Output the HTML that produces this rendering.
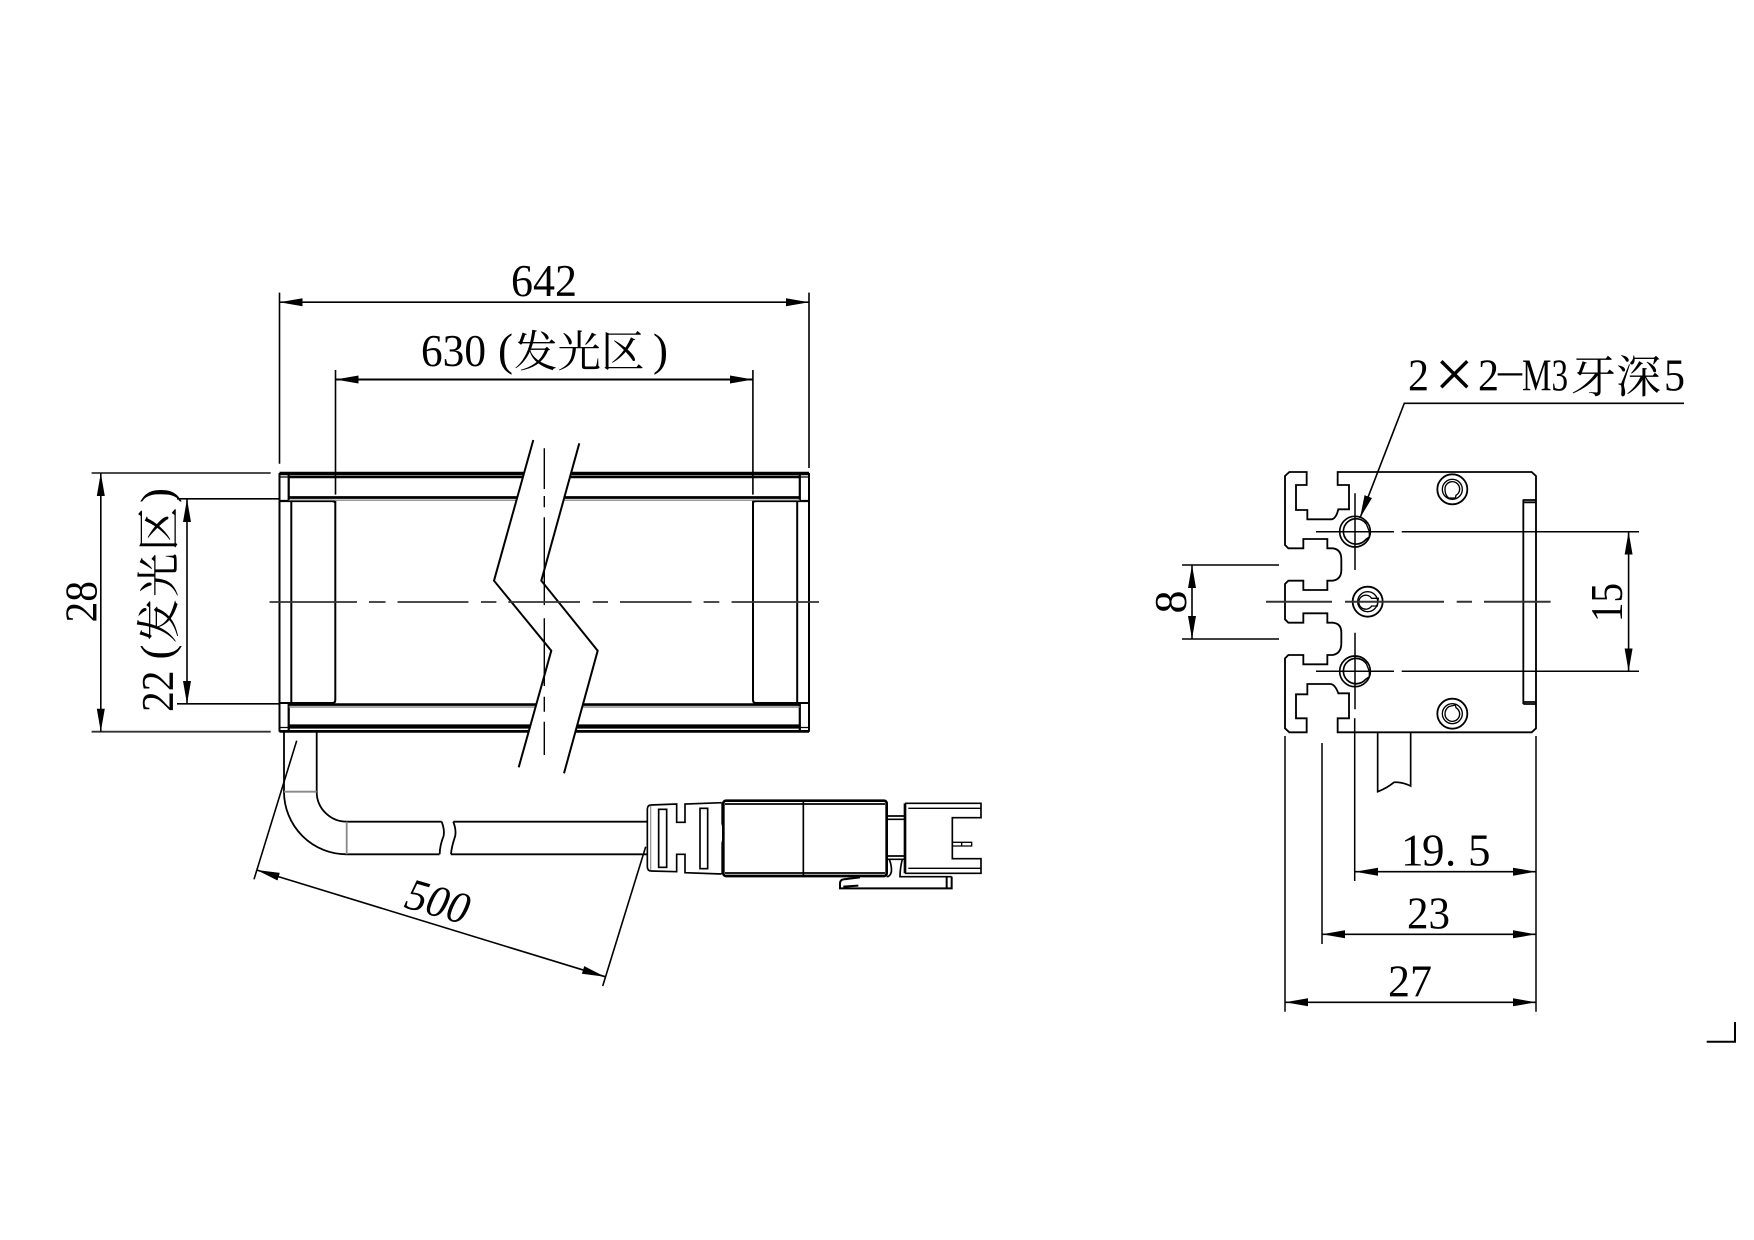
<!DOCTYPE html>
<html><head><meta charset="utf-8"><style>
html,body{margin:0;padding:0;background:#fff}
svg{display:block}
text{fill:#000}
.d{font-family:"Liberation Serif",serif;font-size:45px}
.c{font-family:"Liberation Serif","Noto Serif CJK SC",serif;font-size:44px}
</style></head><body>
<svg width="1754" height="1240" viewBox="0 0 1754 1240" xmlns="http://www.w3.org/2000/svg">
<defs>
<marker id="a" markerUnits="userSpaceOnUse" markerWidth="24" markerHeight="10" refX="23" refY="4.5" orient="auto-start-reverse" viewBox="0 0 24 9"><path d="M0,0.5 L23,4.5 L0,8.5 Z" fill="#000"/></marker>
</defs>
<rect width="1754" height="1240" fill="#fff"/>

<!-- FRONT VIEW body -->
<g fill="none" stroke="#000" stroke-width="2">
<path d="M279.5 473V731.7M809 473V731.7"/>
<path d="M288.7 473V500M799.8 473V500M288.7 704V731.7M799.8 704V731.7" stroke-width="2.2"/>
<path d="M291.3 501V702M797.2 501V702"/>
<path d="M335.3 501V700q0 3-3 3H279.5M753 501V700q0 3 3 3H809"/>
<path d="M279.5 501H332q3 0 3 2M809 501H756q-3 0-3 2" stroke-width="2.2"/>
<path d="M279.5 473.5H809" stroke-width="3.4"/>
<path d="M288.7 477H799.8" stroke-width="2.6"/>
<path d="M279.5 477H288.7M799.8 477H809" stroke-width="1.2"/>
<path d="M288.7 497.5H799.8" stroke-width="2.8"/>
<path d="M288.7 500.2H799.8" stroke="#777" stroke-width="1.2"/>
<path d="M288.7 704.6H799.8" stroke-width="2.6"/>
<path d="M288.7 707H799.8" stroke="#777" stroke-width="1.2"/>
<path d="M288.7 726.5H799.8" stroke-width="4.2"/>
<path d="M279.5 731.4H809" stroke-width="2.8"/>
<path d="M279.5 727.5H288.7M799.8 727.5H809" stroke-width="1.2"/>
</g>
<polygon points="533.3,440 494,580.7 551.3,650.7 518.7,767.3 564,773.3 597.7,650.7 541.3,580.7 579.3,443.3" fill="#fff"/>
<path d="M533.3 440L494 580.7L551.3 650.7L518.7 767.3M579.3 443.3L541.3 580.7L597.7 650.7L564 773.3" fill="none" stroke="#000" stroke-width="2"/>
<path d="M544.3 448.3V489M544.3 496V507.3M544.3 517.3V605M544.3 618.3V686M544.3 696.7V711.7M544.3 721.7V755" stroke="#000" stroke-width="1.4" fill="none"/>
<path d="M269.5 602H357M369 602H385.5M397.5 602H468.4M481 602H496.4M508.4 602H580M592.7 602H608M620 602H691.6M703.6 602H719.3M731.6 602H819" stroke="#333" stroke-width="1.8" fill="none"/>

<!-- Cable -->
<g fill="none" stroke="#000" stroke-width="1.8">
<path d="M284 731V791.7A62.7 62.7 0 0 0 346.7 854.3H439.5M316.7 731V791.7A30 30 0 0 0 346.7 821.7H441.7"/>
<path d="M441.7 821.7q3 8 2 14q-4 10-4 18.6M453.3 821.7q3 8 2 14q-4 12-4.300 18.600"/>
<path d="M453.300 821.700H647M451 854.300H647"/>
<path d="M284 791.700H316.700M346.700 821.700V854.300" stroke="#888"/>
</g>

<!-- Connector -->
<g transform="translate(630 780) scale(.33333)" fill="none" stroke="#000" stroke-width="5">
<path d="M62 75L140 72V127H165V72L275 68M62 273L140 275V223H165V278L275 282"/>
<path d="M62 75Q52 76 52 88V260Q52 272 62 273"/>
<path d="M62 78V270" stroke="#999" stroke-width="4"/>
<rect x="86" y="88" width="24" height="174"/>
<rect x="210" y="85" width="23" height="181"/>
<rect x="280" y="62" width="490" height="226" rx="8" stroke-width="8"/>
<path d="M285 72H765M285 279H765M520 62V288"/>
<path d="M276 68V130L282 160L276 190V282" stroke-width="4"/>
<path d="M770 108H825M770 118H825M770 228H825M770 238H825"/>
<path d="M825 70V280" stroke-width="8"/>
<path d="M825 70H1053V113H967V236H1053V280H825"/>
<path d="M835 85H1053M835 265H1053" stroke-width="4"/>
<path d="M967 187H1025V198H967M995 187V198" stroke-width="4"/>
<path d="M778 238Q786 260 784 276Q780 290 770 290" stroke-width="5"/>
<path d="M817 238Q810 265 810 290H965"/>
<path d="M690 292L640 298Q630 300 630 310V325H965V290M640 320L685 317M950 290V322" stroke-width="6"/>
</g>

<!-- Side view profile -->
<g transform="translate(1270 460) scale(.33333)" fill="none" stroke="#000" stroke-width="5.500">
<path d="M203 36H785L798 48V805L785 817H203V775H237V700H205Q195 672 180 672H112V703H78V775H110V817H58L45 805V595L55 585H100V613H172V585H188Q214 580 214 550V518Q214 490 188 488H172V460H100V488H55L45 478V372L55 362H100V390H172V362H188Q214 358 214 330V298Q214 268 188 265H172V237H100V265H55L45 255V48L58 36H110V75H78V150H112V178H185Q198 176 205 148H237V75H203Z"/>
<path d="M760 120H798M760 127H798M760 118V732M760 726H798M760 732H798"/>
<path d="M323 817V995Q350 985 372 967Q395 965 422 978V817" stroke-width="5"/>
<circle cx="547" cy="88" r="45"/><circle cx="547" cy="88" r="30" stroke-width="4"/>
<path d="M536 114Q525 105 525 88A22 22 0 1 1 558 106L556 114Z" stroke-width="4"/>
<circle cx="547" cy="761" r="45"/><circle cx="547" cy="761" r="30" stroke-width="4"/>
<path d="M536 740Q525 748 525 762A22 22 0 1 0 558 743L556 735Z" stroke-width="4"/>
<circle cx="293" cy="425" r="45"/><circle cx="293" cy="425" r="30" stroke-width="4"/>
<path d="M325 415H305A21 21 0 1 0 305 438H322Z" stroke-width="4"/>
<circle cx="255" cy="215" r="46" stroke-width="5"/>
<path d="M289 192A38 38 0 1 0 287 239L297 232" stroke-width="5"/>
<path d="M289 192L298 215V232" stroke-width="4"/>
<circle cx="255" cy="634" r="46" stroke-width="5"/>
<path d="M289 611A38 38 0 1 0 287 658L297 651" stroke-width="5"/>
<path d="M289 611L298 634V651" stroke-width="4"/>
</g>
<g fill="none" stroke="#000" stroke-width="1.500">
<path d="M1316 531.700H1394M1401.700 531.700H1639M1316 671.300H1394M1401.700 671.300H1639"/>
<path d="M1355 493.300V570M1355 632.700V709.300M1354.700 718.300V881"/>
<path d="M1266 601.800H1332M1345 601.800H1444M1456.700 601.800H1472M1484 601.800H1550.600" stroke="#333" stroke-width="2"/>
<path d="M1285 736V1011.700M1322 743V944M1536 736V1011.700"/>
<path d="M1182 565H1279M1182 639H1279"/>
</g>

<!-- Dimensions -->
<g fill="none" stroke="#000" stroke-width="1.600">
<path d="M279.500 292.600V463.700M809 292.600V468M335.500 370V494.600M752.900 370V494.600"/>
<path d="M279.500 302.200H809" marker-start="url(#a)" marker-end="url(#a)"/>
<path d="M335.500 379.500H752.900" marker-start="url(#a)" marker-end="url(#a)" stroke-width="2"/>
<path d="M91.600 473H270.700M91.600 731.700H270.700" stroke="#333" stroke-width="1.800"/>
<path d="M177 498.800H280M177 703.800H280" stroke-width="1.600"/>
<path d="M100.800 473V731.700" marker-start="url(#a)" marker-end="url(#a)"/>
<path d="M187 499V704" marker-start="url(#a)" marker-end="url(#a)"/>
<path d="M296.700 740.700L254 879.300M645.700 846.700L602.700 986"/>
<path d="M256.700 870L605 976.700" marker-start="url(#a)" marker-end="url(#a)"/>
<path d="M1192 565V639" marker-start="url(#a)" marker-end="url(#a)"/>
<path d="M1628.600 531.700V671.300" marker-start="url(#a)" marker-end="url(#a)"/>
<path d="M1355 871.700H1536" marker-start="url(#a)" marker-end="url(#a)"/>
<path d="M1322 934.300H1536" marker-start="url(#a)" marker-end="url(#a)"/>
<path d="M1285 1002.300H1536" marker-start="url(#a)" marker-end="url(#a)"/>
<path d="M1684 403.300H1404.300L1360 518" marker-end="url(#a)"/>
<path d="M1706.700 1041.700H1735V1022" stroke-width="2"/>
</g>

<!-- Texts -->
<text class="d" x="511" y="296" textLength="66" lengthAdjust="spacingAndGlyphs">642</text>
<text class="d" x="421" y="366" textLength="65" lengthAdjust="spacingAndGlyphs">630</text>
<text class="d" x="498" y="365">(</text>
<text class="c" x="514" y="367" style="font-size:43.500px">发光区</text>
<text class="d" x="653" y="365">)</text>

<text class="d" transform="translate(96.700 622.500) rotate(-90)" textLength="41.500" lengthAdjust="spacingAndGlyphs">28</text>
<text class="d" transform="translate(173 712) rotate(-90)" textLength="41.500" lengthAdjust="spacingAndGlyphs">22</text>
<text class="d" transform="translate(172 659.500) rotate(-90)">(</text>
<text class="c" transform="translate(174 643) rotate(-90)" style="font-size:44px;letter-spacing:2px">发光区</text>
<text class="d" transform="translate(172 503) rotate(-90)">)</text>

<text class="d" transform="translate(403 907) rotate(16)" textLength="64" lengthAdjust="spacingAndGlyphs" style="font-style:italic">500</text>

<text class="d" x="1408" y="390.500" textLength="21" lengthAdjust="spacingAndGlyphs">2</text>
<text class="d" x="1434.500" y="397.500" style="font-size:70px">×</text>
<text class="d" x="1478" y="390.500" textLength="21" lengthAdjust="spacingAndGlyphs">2</text>
<text class="d" x="1498" y="385" textLength="24" lengthAdjust="spacingAndGlyphs">–</text>
<text class="d" x="1522" y="390.500" textLength="46" lengthAdjust="spacingAndGlyphs">M3</text>
<text class="c" x="1571" y="392.500" style="font-size:45px">牙深</text>
<text class="d" x="1664" y="390.500" textLength="21" lengthAdjust="spacingAndGlyphs">5</text>

<text class="d" transform="translate(1186 613.500) rotate(-90)" textLength="23" lengthAdjust="spacingAndGlyphs">8</text>
<text class="d" transform="translate(1622 622) rotate(-90)" textLength="39" lengthAdjust="spacingAndGlyphs">15</text>

<text class="d" x="1401 1422 1445 1468" y="865.700">19.5</text>
<text class="d" x="1407" y="928.300" textLength="43" lengthAdjust="spacingAndGlyphs">23</text>
<text class="d" x="1388" y="996.700" textLength="44" lengthAdjust="spacingAndGlyphs">27</text>
</svg>
</body></html>
